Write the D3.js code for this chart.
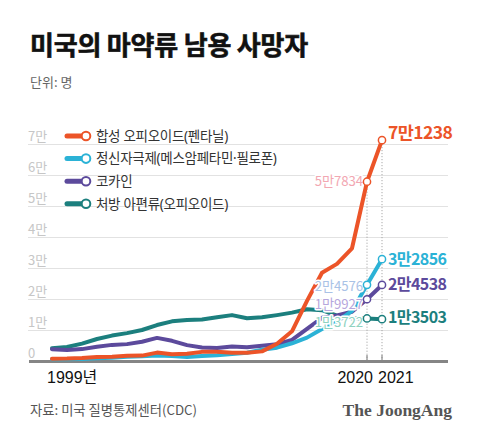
<!DOCTYPE html>
<html><head><meta charset="utf-8">
<script src="https://cdn.jsdelivr.net/npm/d3@7"></script>
<style>
body{margin:0;background:#fff;}
svg{display:block;}
</style></head><body>
<svg id="c" width="480" height="439"></svg>
<script>
// ---- data ----
const years = [1999,2000,2001,2002,2003,2004,2005,2006,2007,2008,2009,2010,2011,2012,2013,2014,2015,2016,2017,2018,2019,2020,2021];
const fentanyl   = [730,782,957,1295,1400,1664,1742,2707,2213,2306,2946,3007,2666,2628,3105,5544,9580,19413,28466,31335,36359,57834,71238];
const stimulants = [547,578,643,900,1022,1388,1549,1791,1601,1302,1632,1854,2266,2635,3627,4298,5716,7542,10333,12676,16167,24576,32856];
const cocaine    = [3822,3544,3833,4599,5199,5443,6208,7448,6512,5129,4350,4183,4681,4404,4944,5415,6784,10375,13942,14666,15883,19927,24538];
const rxOpioids  = [4100,4500,5600,7100,8200,9000,10000,11600,12800,13200,13400,14100,14800,13800,14100,14800,15600,16700,16400,14600,13800,13722,13503];
const seriesNames = ["합성 오피오이드(펜타닐)","정신자극제(메스암페타민·필로폰)","코카인","처방 아편류(오피오이드)"];
const labels2020 = ["5만7834","2만4576","1만9927","1만3722"];
const labels2021 = ["7만1238","3만2856","2만4538","1만3503"];
const yTicks = [0,10000,20000,30000,40000,50000,60000,70000];
const yTickLabels = ["0","1만","2만","3만","4만","5만","6만","7만"];
const xTickYears = [1999,2020,2021];
const xTickLabels = ["1999년","2020","2021"];

// ---- styles ----
const colors = ["#EC5428","#2BB2D6","#5C4A9C","#1C7F7E"];
const paleColors = ["#F2A7B2","#A9C2E6","#B6A6DC","#8ED2C0"];
const KR = "'Noto Sans CJK KR','Noto Sans',sans-serif";
const KRL = "'Noto Sans','Noto Sans CJK KR',sans-serif";
const SANS = "'Liberation Sans','Noto Sans CJK KR',sans-serif";

const svg = d3.select("#c");
const x = d3.scaleLinear().domain([1999,2021]).range([52,382]);
const y = d3.scaleLinear().domain([0,70000]).range([361,144]);

// title
svg.append("text").attr("x",30).attr("y",55).text("미국의 마약류 남용 사망자")
  .attr("font-family",KR).attr("font-weight",700).attr("font-size",26)
  .attr("letter-spacing",-0.2).attr("fill","#111")
  .attr("stroke","#111").attr("stroke-width",0.6);
svg.append("text").attr("x",30).attr("y",87).text("단위: 명")
  .attr("font-family",KR).attr("font-size",13).attr("fill","#666");

// gridlines + y labels
const gy = svg.append("g");
gy.selectAll("line").data(yTicks.filter(d=>d>0)).join("line")
  .attr("x1",28).attr("x2",448).attr("y1",d=>y(d)+0.5).attr("y2",d=>y(d)+0.5)
  .attr("stroke","#e2e2e2").attr("stroke-width",1);
gy.selectAll("text").data(yTicks).join("text")
  .attr("x",28).attr("y",d=>y(d)-3.5).text((d,i)=>yTickLabels[i])
  .attr("font-family",KR).attr("font-size",13).attr("fill","#c6c6c6");

// dotted guides for 2020/2021
[[2020,fentanyl[21]],[2021,fentanyl[22]]].forEach(([yr,v])=>{
  svg.append("line").attr("x1",x(yr)).attr("x2",x(yr)).attr("y1",y(v)+4).attr("y2",y(0))
    .attr("stroke","#9a9a9a").attr("stroke-width",1).attr("stroke-dasharray","1,2");
  svg.append("line").attr("x1",x(yr)).attr("x2",x(yr)).attr("y1",y(0)-6).attr("y2",y(0))
    .attr("stroke","#777").attr("stroke-width",1);
});

// baseline
svg.append("line").attr("x1",29).attr("x2",448).attr("y1",y(0)+0.5).attr("y2",y(0)+0.5)
  .attr("stroke","#858585").attr("stroke-width",3);

// lines
const allSeries = [fentanyl,stimulants,cocaine,rxOpioids];
const line = d3.line().x((d,i)=>x(years[i])).y(d=>y(d));
const drawOrder = [3,2,1,0];
drawOrder.forEach(si=>{
  svg.append("path").datum(allSeries[si]).attr("d",line)
    .attr("fill","none").attr("stroke",colors[si]).attr("stroke-width",4)
    .attr("stroke-linejoin","round").attr("stroke-linecap","round");
});

// 2020 labels (pale, halo)
const dy2020 = [0,2,5,3.5];
allSeries.forEach((s,si)=>{
  svg.append("text").attr("x",x(2020)-4).attr("y",y(s[21])+dy2020[si]+4.6)
    .attr("text-anchor","end").text(labels2020[si])
    .attr("font-family",KR).attr("font-size",13.2).attr("letter-spacing",-0.1)
    .attr("fill",paleColors[si]).attr("stroke","#fff").attr("stroke-width",3)
    .attr("paint-order","stroke").attr("stroke-linejoin","round");
});

// points at 2020/2021
allSeries.forEach((s,si)=>{
  [21,22].forEach(i=>{
    svg.append("circle").attr("cx",x(years[i])).attr("cy",y(s[i])).attr("r",3.6)
      .attr("fill","#fff").attr("stroke",colors[si]).attr("stroke-width",1.5);
  });
});

// 2021 labels (bold)
const dy2021 = [-7,0,-1,-2];
const fs2021 = [17.5,16,16,16];
allSeries.forEach((s,si)=>{
  svg.append("text").attr("x",x(2021)+6).attr("y",y(s[22])+dy2021[si]+fs2021[si]*0.35)
    .text(labels2021[si])
    .attr("font-family",KR).attr("font-weight",700).attr("font-size",fs2021[si]).attr("letter-spacing",-0.6)
    .attr("fill",colors[si]).attr("stroke","#fff").attr("stroke-width",3)
    .attr("paint-order","stroke").attr("stroke-linejoin","round");
});

// legend
const lg = svg.append("g");
seriesNames.forEach((n,i)=>{
  const ly = 136 + i*22.6;
  lg.append("line").attr("x1",67).attr("x2",83).attr("y1",ly).attr("y2",ly)
    .attr("stroke",colors[i]).attr("stroke-width",5).attr("stroke-linecap","round");
  lg.append("circle").attr("cx",86).attr("cy",ly).attr("r",4.3)
    .attr("fill","#fff").attr("stroke",colors[i]).attr("stroke-width",2);
  lg.append("text").attr("x",96).attr("y",ly+4.8).text(n)
    .attr("font-family",KRL).attr("font-size",13.5).attr("letter-spacing",-0.3).attr("fill","#333");
});

// x labels
const xAnchors = ["start","end","start"];
const xPos = [47, x(2020)+6, x(2021)-4];
xTickYears.forEach((yr,i)=>{
  svg.append("text").attr("x",xPos[i]).attr("y",383).text(xTickLabels[i])
    .attr("text-anchor",xAnchors[i])
    .attr("font-family",SANS).attr("font-size",16).attr("fill","#111");
});

// footer
svg.append("text").attr("x",30).attr("y",415).text("자료: 미국 질병통제센터(CDC)")
  .attr("font-family",KR).attr("font-size",13.3).attr("fill","#555");
svg.append("text").attr("x",452).attr("y",416).attr("text-anchor","end").text("The JoongAng")
  .attr("font-family","'Liberation Serif','DejaVu Serif',serif").attr("font-weight",700)
  .attr("font-size",17.5).attr("fill","#555");
</script>
</body></html>
